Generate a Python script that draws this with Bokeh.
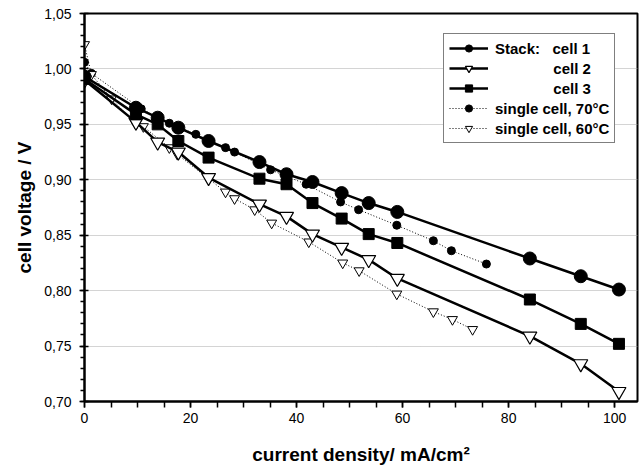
from bokeh.plotting import figure
from bokeh.models import FixedTicker, CustomJSTickFormatter, Range1d
from bokeh.embed import file_html
from bokeh.resources import INLINE

# ---- data ----
x_stack = [0, 9.7, 13.8, 17.7, 23.4, 33.0, 38.1, 43.0, 48.5, 53.6, 59.0, 84.0, 93.6, 100.8]
cell1 = [0.993, 0.965, 0.956, 0.947, 0.935, 0.916, 0.905, 0.898, 0.888, 0.879, 0.871, 0.829, 0.813, 0.801]
cell2 = [0.990, 0.952, 0.934, 0.925, 0.902, 0.878, 0.867, 0.851, 0.839, 0.828, 0.811, 0.759, 0.734, 0.709]
cell3 = [0.991, 0.959, 0.950, 0.935, 0.920, 0.901, 0.896, 0.879, 0.865, 0.851, 0.843, 0.792, 0.770, 0.752]

single70_x = [0, 1.3, 10.7, 16.0, 21.0, 26.6, 28.3, 35.1, 41.8, 48.3, 51.7, 58.9, 65.8, 69.2, 75.8]
single70_y = [1.006, 0.996, 0.964, 0.951, 0.941, 0.929, 0.925, 0.909, 0.896, 0.880, 0.873, 0.859, 0.845, 0.836, 0.824]

single60_x = [0, 1.3, 5.1, 9.7, 11.1, 16.0, 17.5, 26.6, 28.3, 32.1, 35.3, 42.3, 48.7, 51.8, 58.9, 65.8, 69.4, 73.2]
single60_y = [1.022, 0.995, 0.973, 0.950, 0.948, 0.929, 0.923, 0.889, 0.883, 0.873, 0.861, 0.844, 0.825, 0.818, 0.797, 0.781, 0.774, 0.765]

x_major = [0, 20, 40, 60, 80, 100]
x_minor = [0, 5, 10, 15, 20, 25, 30, 35, 40, 45, 50, 55, 60, 65, 70, 75, 80, 85, 90, 95, 100]
y_major = [0.70, 0.75, 0.80, 0.85, 0.90, 0.95, 1.00, 1.05]
y_minor = [round(0.70 + 0.01 * i, 2) for i in range(36)]

labels = ["Stack:\u00a0\u00a0 cell 1",
          "\u00a0" * 14 + "cell 2",
          "\u00a0" * 14 + "cell 3",
          "single cell, 70°C",
          "single cell, 60°C"]

FONT = "Liberation Sans"

p = figure(frame_width=553, frame_height=388,
           x_range=Range1d(0, 104.3), y_range=Range1d(0.70, 1.05),
           output_backend="svg", toolbar_location=None,
           min_border_left=84, min_border_right=3, min_border_top=13, min_border_bottom=62,
           background_fill_color="white", border_fill_color="white")

p.outline_line_color = "black"
p.outline_line_width = 2

# axes
p.xaxis.ticker = FixedTicker(ticks=x_major, minor_ticks=x_minor)
p.yaxis.ticker = FixedTicker(ticks=y_major, minor_ticks=y_minor)
p.yaxis.formatter = CustomJSTickFormatter(code="return tick.toFixed(2).replace('.', ',');")

for ax in (p.xaxis[0], p.yaxis[0]):
    ax.axis_line_color = "black"
    ax.axis_line_width = 2
    ax.major_tick_line_color = "black"
    ax.minor_tick_line_color = "black"
    ax.major_tick_line_width = 1.5
    ax.minor_tick_line_width = 1.5
    ax.major_label_text_font = FONT
    ax.major_label_text_font_size = "14px"
    ax.major_label_text_color = "black"
    ax.axis_label_text_font = FONT
    ax.axis_label_text_font_style = "bold"
    ax.axis_label_text_font_size = "19px"
    ax.axis_label_text_color = "black"

p.xaxis.major_tick_in = 0
p.xaxis.major_tick_out = 6
p.xaxis.minor_tick_in = 0
p.xaxis.minor_tick_out = 6
p.xaxis.major_label_standoff = 5
p.xaxis.axis_label_standoff = 18
p.xaxis.axis_label = "current density/ mA/cm²"

p.yaxis.major_tick_in = 4
p.yaxis.major_tick_out = 5
p.yaxis.minor_tick_in = 0
p.yaxis.minor_tick_out = 4
p.yaxis.major_label_standoff = 8
p.yaxis.axis_label_standoff = 6
p.yaxis.axis_label = "cell voltage / V"

# grid
p.xgrid.grid_line_color = None
p.ygrid.grid_line_color = "#a8a8a8"
p.ygrid.grid_line_dash = "1 1"
p.ygrid.grid_line_width = 1

# single cells (dotted)
p.line(single70_x, single70_y, line_color="black", line_width=1, line_dash="1 2", legend_label=labels[3])
p.scatter(single70_x, single70_y, marker="circle", size=8, fill_color="black", line_color="black", legend_label=labels[3])

p.line(single60_x, single60_y, line_color="black", line_width=1, line_dash="1 2", legend_label=labels[4])
p.scatter(single60_x, single60_y, marker="inverted_triangle", size=10, fill_color="white", line_color="black", line_width=1, legend_label=labels[4])

# stack cells (solid)
p.line(x_stack, cell1, line_color="black", line_width=2.5, legend_label=labels[0])
p.scatter(x_stack, cell1, marker="circle", size=13, fill_color="black", line_color="black", legend_label=labels[0])

p.line(x_stack, cell2, line_color="black", line_width=2.5, legend_label=labels[1])
p.scatter(x_stack, cell2, marker="inverted_triangle", size=14, fill_color="white", line_color="black", line_width=1.2, legend_label=labels[1])

p.line(x_stack, cell3, line_color="black", line_width=2.5, legend_label=labels[2])
p.scatter(x_stack, cell3, marker="square", size=11, fill_color="black", line_color="black", legend_label=labels[2])

# legend order
lg = p.legend[0]
order = {lab: i for i, lab in enumerate(labels)}
lg.items = sorted(lg.items, key=lambda it: order[it.label.value])
lg.location = (359, 258)
lg.border_line_color = "black"
lg.border_line_width = 1
lg.background_fill_color = "white"
lg.background_fill_alpha = 1
lg.label_text_font = FONT
lg.label_text_font_style = "bold"
lg.label_text_font_size = "15px"
lg.label_text_color = "black"
lg.glyph_width = 39
lg.glyph_height = 18
lg.label_height = 18
lg.label_standoff = 7
lg.spacing = 2
lg.padding = 5
lg.margin = 0

open("out.html", "w").write(file_html(p, INLINE))
